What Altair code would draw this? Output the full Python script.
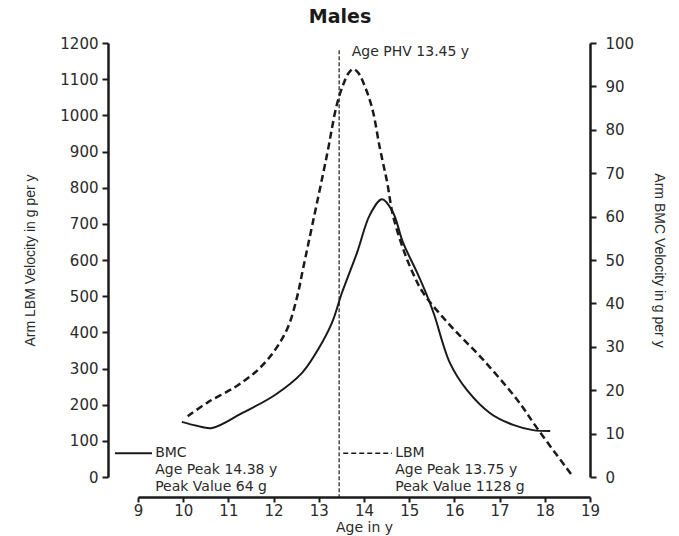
import altair as alt
import pandas as pd

# LBM velocity (left axis, g per y) - dashed
lbm_age = [10.1, 10.55, 11.15, 11.65, 12.03, 12.32, 12.52, 12.65, 12.87, 13.18, 13.4, 13.55,
           13.66, 13.76, 13.87, 13.98, 14.18, 14.35, 14.51, 14.64, 14.86, 15.08, 15.31, 15.9,
           16.63, 17.38, 17.83, 18.58]
lbm_val = [168, 207, 249, 296, 351, 415, 498, 575, 705, 890, 1030, 1088,
           1117, 1128, 1118, 1092, 1020, 910, 816, 724, 633, 564, 509, 420,
           325, 215, 135, 8]

# BMC velocity (right axis, g per y) - solid
bmc_age = [9.97, 10.3, 10.64, 11.3, 12.03, 12.63, 12.98, 13.29, 13.51, 13.85, 14.13, 14.4,
           14.64, 14.86, 15.17, 15.39, 15.55, 15.9, 16.28, 16.79, 17.3, 17.74, 18.12]
bmc_val = [12.7, 11.8, 11.3, 14.7, 18.9, 24.0, 29.3, 35.5, 42.4, 51.8, 60.4, 64.0,
           61.0, 54.1, 47.2, 41.9, 37.5, 26.3, 20.0, 14.7, 12.0, 10.8, 10.6]

x_ticks = list(range(9, 20))
lbm_ticks = list(range(0, 1300, 100))
bmc_ticks = list(range(0, 110, 10))

# annotations (data units: age, LBM scale)
phv_age = [13.45]
phv_top = [1180]
phv_bottom = [-55]

ann_text = ["Age PHV 13.45 y", "BMC", "Age Peak 14.38 y", "Peak Value 64 g",
            "LBM", "Age Peak 13.75 y", "Peak Value 1128 g"]
ann_age = [13.73, 9.38, 9.38, 9.38, 14.69, 14.69, 14.69]
ann_val = [1175, 66, 19, -27, 66, 19, -27]

key_name = ["BMC", "LBM"]
key_start = [8.49, 13.54]
key_end = [9.31, 14.62]
key_val = [66, 66]

INK = "#1a1a1a"
TXT = "#2a2a2a"
HFONT = "DejaVu Sans"
VFONT = "Liberation Sans"

lbm_df = pd.DataFrame({"age": lbm_age, "v": lbm_val})
bmc_df = pd.DataFrame({"age": bmc_age, "v": bmc_val})
phv_df = pd.DataFrame({"age": phv_age, "top": phv_top, "bottom": phv_bottom})
ann_df = pd.DataFrame({"age": ann_age, "v": ann_val, "t": ann_text})
key_df = pd.DataFrame({"age": key_start, "age2": key_end, "v": key_val, "name": key_name})

x_scale = alt.Scale(domain=[9, 19], nice=False, zero=False)
lbm_scale = alt.Scale(domain=[0, 1200], nice=False)
bmc_scale = alt.Scale(domain=[0, 100], nice=False)

x_axis = alt.Axis(values=x_ticks, orient="bottom", offset=20, grid=False, format="d",
                  title="Age in y", titleFont=HFONT, titleFontSize=14,
                  titleFontWeight="normal", titlePadding=2, titleColor=TXT,
                  labelFont=HFONT, labelFontSize=15, labelColor=TXT, labelPadding=1,
                  tickSize=5, tickWidth=2, tickColor=INK,
                  domainWidth=2.5, domainColor=INK, labelFlush=False)

X = alt.X("age:Q", scale=x_scale, axis=x_axis)

lbm_line = alt.Chart(lbm_df).mark_line(
    color=INK, strokeWidth=2.5, strokeDash=[7, 4], interpolate="catmull-rom"
).encode(
    x=X,
    y=alt.Y("v:Q", scale=lbm_scale,
            axis=alt.Axis(values=lbm_ticks, orient="left", offset=30, grid=False, format="d",
                          title="Arm LBM Velocity in g per y", titleFont=VFONT,
                          titleFontSize=14, titleFontWeight="normal", titleColor=TXT,
                          titlePadding=22,
                          labelFont=HFONT, labelFontSize=15, labelColor=TXT, labelPadding=4,
                          tickSize=6, tickWidth=2, tickColor=INK,
                          domainWidth=2.5, domainColor=INK, labelFlush=False)),
)

bmc_line = alt.Chart(bmc_df).mark_line(
    color=INK, strokeWidth=2, interpolate="catmull-rom"
).encode(
    x=X,
    y=alt.Y("v:Q", scale=bmc_scale,
            axis=alt.Axis(values=bmc_ticks, orient="right", offset=0, grid=False, format="d",
                          title="Arm BMC Velocity in g per y", titleFont=VFONT,
                          titleFontSize=14, titleFontWeight="normal", titleColor=TXT,
                          titlePadding=18,
                          labelFont=HFONT, labelFontSize=15, labelColor=TXT, labelPadding=9,
                          tickSize=6, tickWidth=2, tickColor=INK,
                          domainWidth=2.5, domainColor=INK, labelFlush=False)),
)

phv_rule = alt.Chart(phv_df).mark_rule(
    color=INK, strokeWidth=1.2, strokeDash=[4, 2]
).encode(
    x=X,
    y=alt.Y("top:Q", scale=lbm_scale, axis=None),
    y2="bottom:Q",
)

key_bmc = alt.Chart(key_df).transform_filter(alt.datum.name == "BMC").mark_rule(
    color=INK, strokeWidth=2
).encode(
    x=X, x2="age2:Q",
    y=alt.Y("v:Q", scale=lbm_scale, axis=None),
)

key_lbm = alt.Chart(key_df).transform_filter(alt.datum.name == "LBM").mark_rule(
    color=INK, strokeWidth=1.5, strokeDash=[5, 3]
).encode(
    x=X, x2="age2:Q",
    y=alt.Y("v:Q", scale=lbm_scale, axis=None),
)

texts = alt.Chart(ann_df).mark_text(
    align="left", baseline="middle", font=HFONT, fontSize=14, color=TXT
).encode(
    x=X,
    y=alt.Y("v:Q", scale=lbm_scale, axis=None),
    text="t:N",
)

chart = alt.layer(
    lbm_line, bmc_line, phv_rule, key_bmc, key_lbm, texts
).resolve_scale(
    y="independent"
).properties(
    width=452, height=434,
    title=alt.TitleParams("Males", font=HFONT, fontSize=19, fontWeight="bold",
                          color=INK, anchor="middle", dx=-24, dy=-5),
    autosize=alt.AutoSizeParams(type="none"),
    padding={"left": 130, "top": 35, "right": 81, "bottom": 58},
).configure_view(stroke=None)

chart.save("out.html", embed_options={"renderer": "svg", "actions": False})
